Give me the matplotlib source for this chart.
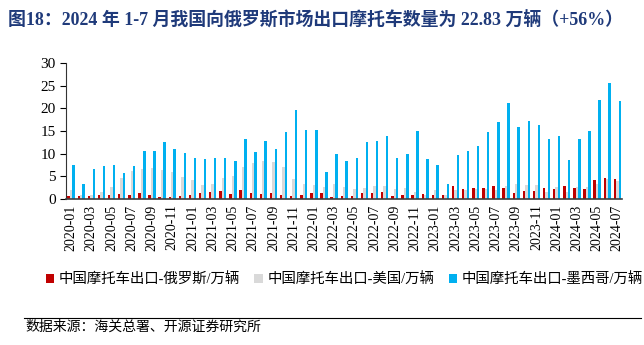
import numpy as np
import matplotlib.pyplot as plt

# 月份 2020-01 ... 2024-07
months = [f"{y}-{m:02d}" for y in range(2020, 2025) for m in range(1, 13)][:55]

# 中国摩托车出口（万辆）
russia = [0.6, 0.65, 0.6, 1.0, 0.8, 1.1, 0.8, 1.25, 0.8, 0.4, 0.45, 0.65,
          0.8, 1.3, 1.55, 1.7, 1.2, 2.0, 1.25, 1.2, 1.25, 0.8, 0.75, 1.0,
          1.3, 1.3, 0.4, 0.75, 0.75, 1.25, 1.25, 1.5, 0.75, 0.8, 1.0, 1.2,
          0.9, 0.95, 2.8, 2.15, 2.45, 2.45, 2.9, 2.5, 1.4, 1.8, 1.8, 2.35,
          2.2, 2.95, 2.35, 2.2, 4.2, 4.65, 4.35]
usa = [2.1, 0.9, 1.0, 1.6, 2.6, 4.6, 6.3, 6.6, 6.9, 6.4, 6.0, 4.8,
       4.1, 3.1, 3.3, 4.6, 5.1, 7.0, 7.9, 8.3, 8.2, 7.1, 4.4, 3.25,
       3.2, 2.6, 3.25, 2.7, 2.2, 2.5, 2.9, 2.9, 2.2, 2.4, 1.5, 1.0,
       2.0, 1.0, 2.0, 2.0, 2.3, 2.3, 2.1, 2.8, 3.3, 3.1, 3.1, 1.6,
       2.7, 1.6, 2.7, 2.7, 3.3, 4.35, 4.0]
mexico = [7.5, 3.25, 6.65, 7.3, 7.5, 5.8, 7.25, 10.5, 10.5, 12.7, 11.1, 10.1,
          9.0, 8.8, 9.0, 9.0, 8.5, 13.2, 10.3, 12.9, 11.0, 14.9, 19.7, 15.2,
          15.3, 6.0, 9.9, 8.35, 9.1, 12.6, 12.9, 13.9, 9.1, 9.9, 15.1, 8.9,
          7.5, 3.25, 9.75, 10.6, 11.75, 14.85, 17.0, 21.3, 15.9, 17.2, 16.4, 13.15,
          14.0, 8.65, 13.2, 15.1, 21.95, 25.7, 21.7]

serif = ['Liberation Serif', 'Noto Sans CJK SC']
plt.rcParams['font.family'] = serif

fig = plt.figure(figsize=(6.44, 3.45), dpi=100)
ax = fig.add_axes([0.1025, 0.423, 0.864, 0.394])

x = np.arange(len(months))
w = 0.24
ax.bar(x - 0.24, russia, w, color='#C00000', label='中国摩托车出口-俄罗斯/万辆')
ax.bar(x, usa, w, color='#D9D9D9', label='中国摩托车出口-美国/万辆')
ax.bar(x + 0.24, mexico, w, color='#00B0F0', label='中国摩托车出口-墨西哥/万辆')

ax.set_xlim(-0.5, len(months) - 0.5)
ax.set_ylim(0, 30)
ax.set_yticks(range(0, 31, 5))
ax.set_xticks(x[::2])
ax.set_xticklabels(months[::2], rotation=90, fontsize=10)
ax.tick_params(axis='x', length=0, pad=4)
ax.tick_params(axis='y', length=4, width=0.8, labelsize=11, direction='out')
for s in ['top', 'right']:
    ax.spines[s].set_visible(False)
ax.spines['left'].set_color('#333333')
ax.spines['bottom'].set_color('#404040')
ax.spines['bottom'].set_linewidth(1.2)

ax.legend(loc='upper center', bbox_to_anchor=(0.5, -0.5), ncol=3, frameon=False,
          fontsize=10.4, handlelength=0.6, handleheight=0.6, handletextpad=0.3,
          columnspacing=1.0, borderaxespad=0)

fig.text(0.012, 0.945, '图18：2024 年 1-7 月我国向俄罗斯市场出口摩托车数量为 22.83 万辆（+56%）',
         fontsize=12.9, fontweight='bold', color='#1F3A7A', va='center')
fig.add_artist(plt.Line2D([0.038, 0.995], [0.078, 0.078], color='black', lw=0.8))
fig.text(0.04, 0.052, '数据来源：海关总署、开源证券研究所', fontsize=10, va='center')

fig.savefig('out.png', dpi=100)
